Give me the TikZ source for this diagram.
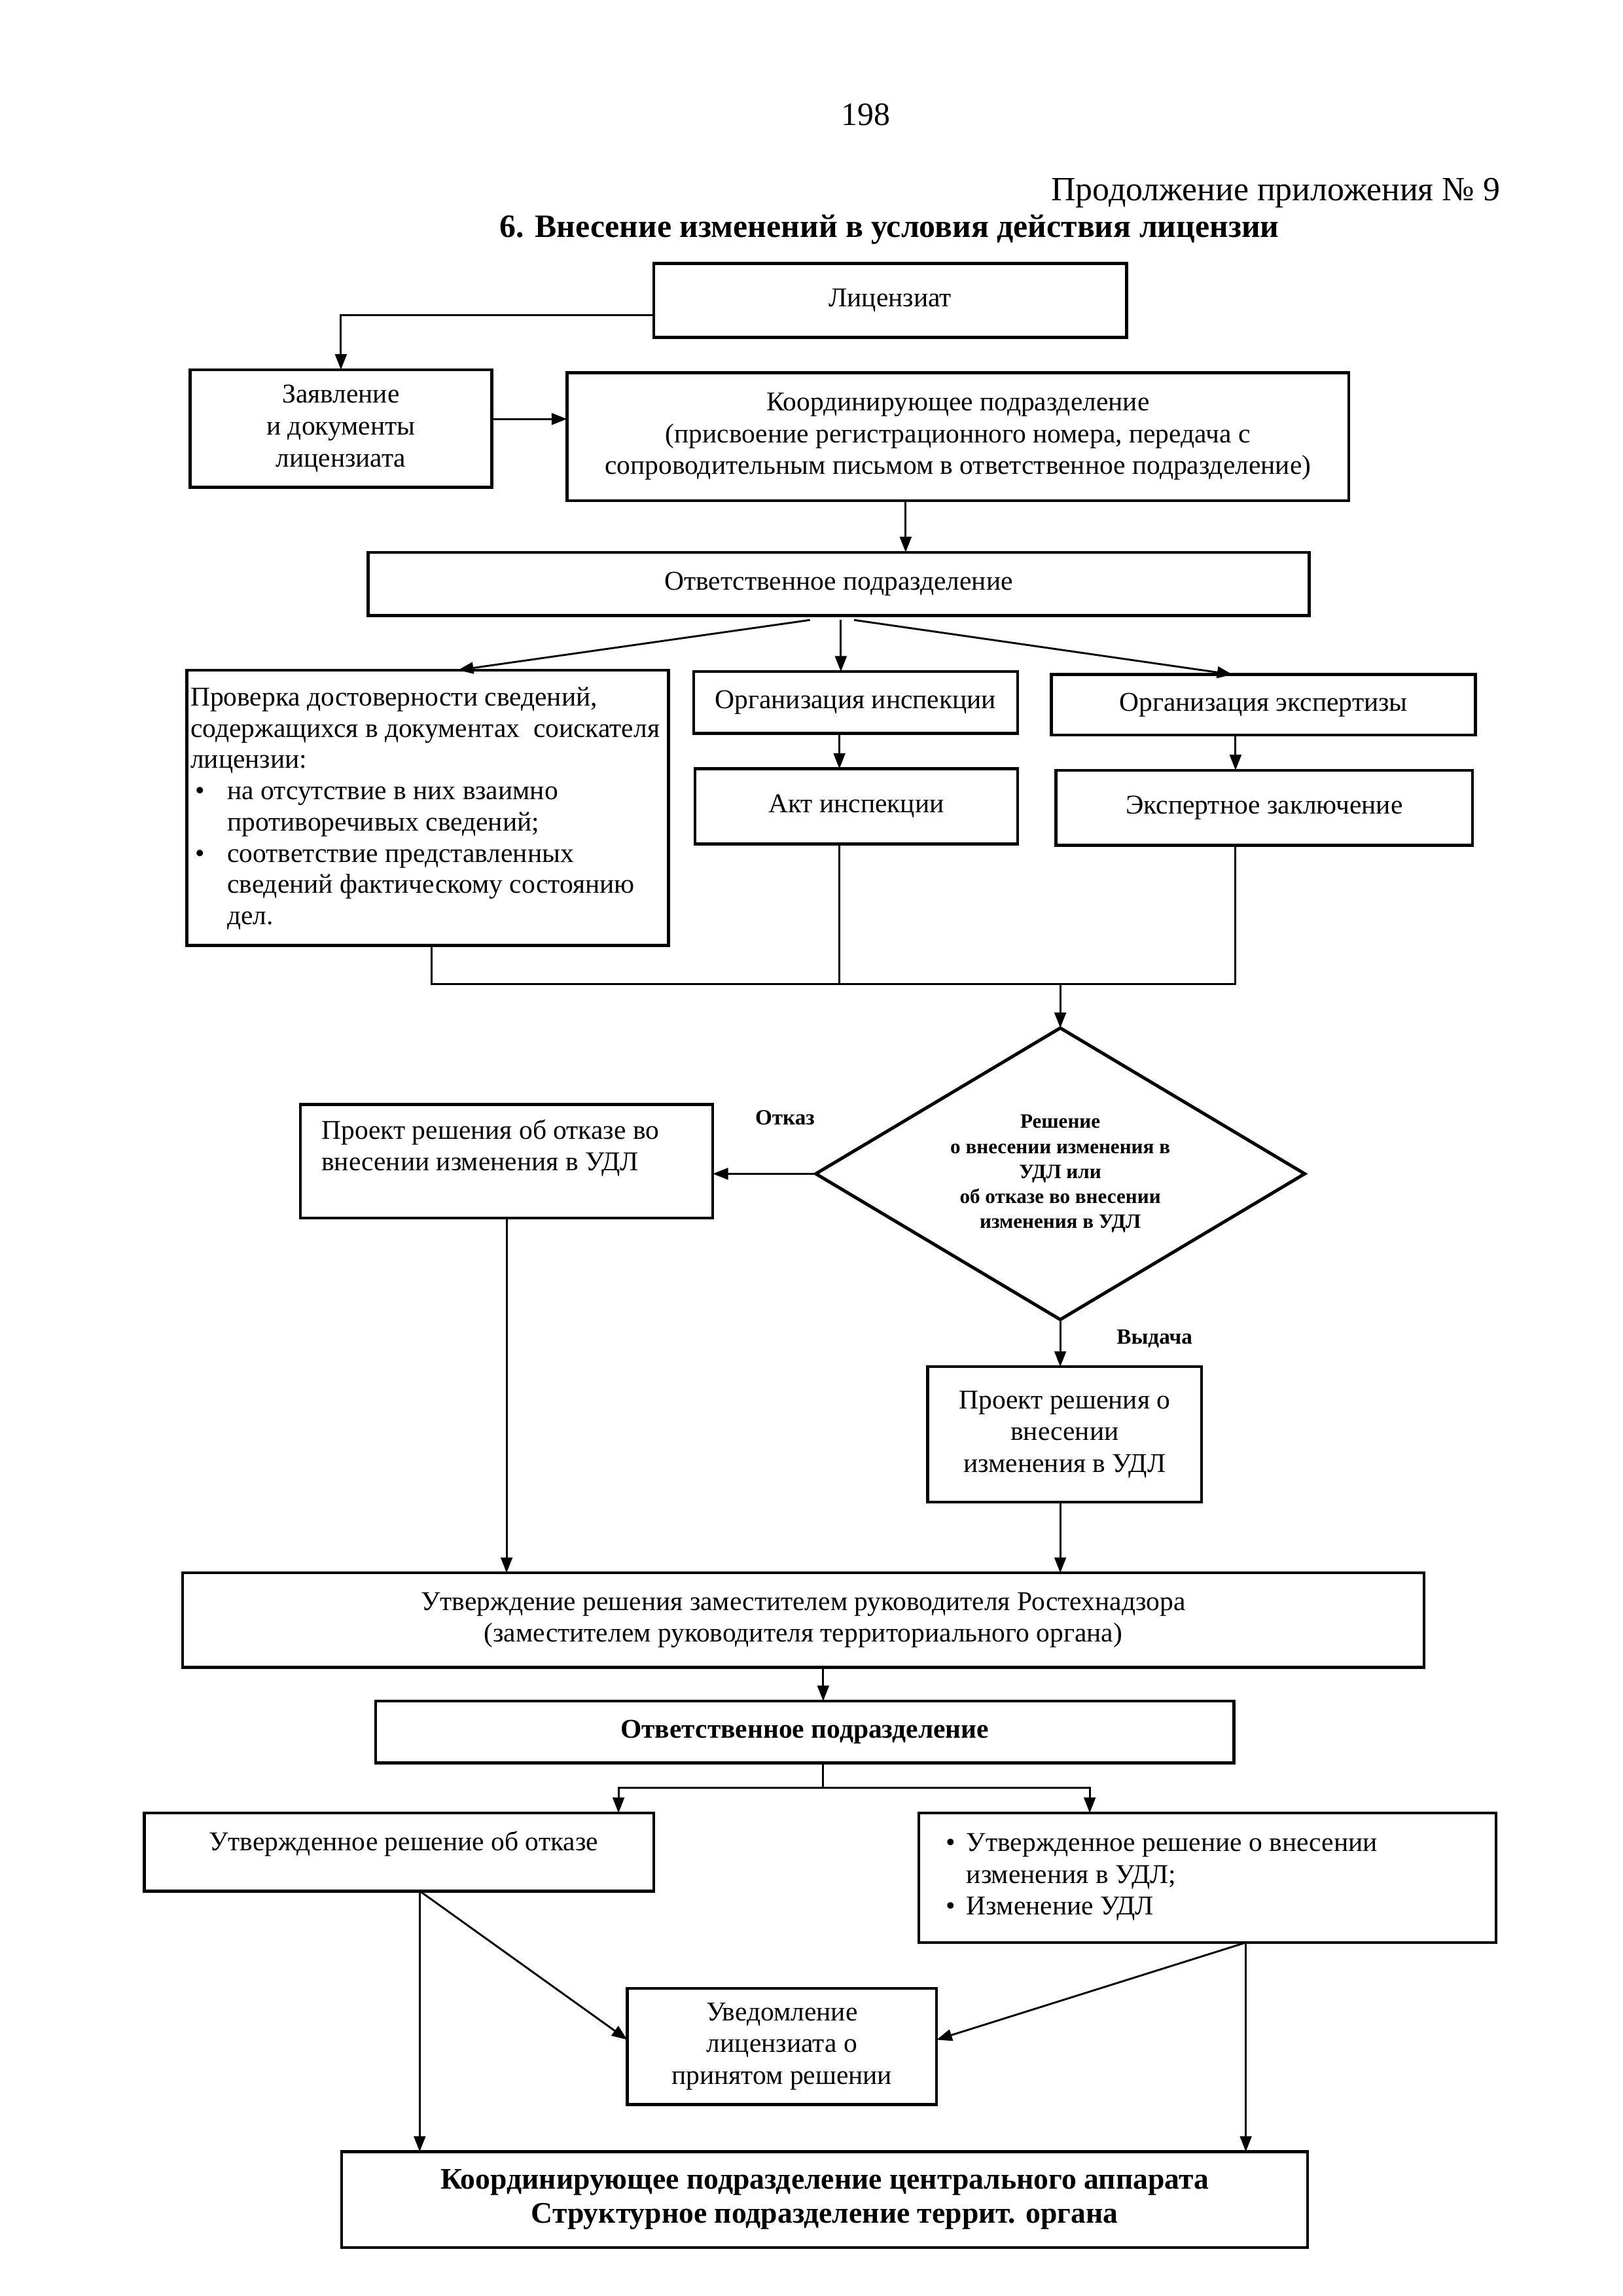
\documentclass[tikz,border=0pt]{standalone}
\usepackage{fontspec}
\setmainfont{Liberation Serif}
\usetikzlibrary{arrows.meta,shapes.geometric,fit,calc}
\begin{document}
\begin{tikzpicture}[x=0.019056cm,y=-0.019056cm,
  box/.style={draw, line width=1.1pt, inner sep=0pt, outer sep=0pt, align=center, font=\fontsize{10}{11.7}\selectfont},
  txt/.style={inner sep=0pt, align=left, font=\fontsize{10}{11.7}\selectfont},
  con/.style={line width=0.7pt},
  arr/.style={con, -{Triangle[length=2mm,width=1.5mm]}},
  lab/.style={inner sep=0pt, font=\fontsize{8}{9.6}\selectfont\bfseries},
]
\path[use as bounding box] (0,0) rectangle (1102,1559);

\node[font=\fontsize{12}{14}\selectfont] (page) at (588,78) {198};
\node[anchor=east, inner sep=0pt, font=\fontsize{12.5}{15}\selectfont] (cont) at (1019,131) {Продолжение приложения №~9};
\node[inner sep=0pt, font=\fontsize{12}{14}\selectfont\bfseries] (title) at (604,156) {6. Внесение изменений в условия действия лицензии};

\node[box, minimum width=6.117cm, minimum height=0.953cm] (lic) at (604.5,204) {Лицензиат};
\node[box, minimum width=3.906cm, minimum height=1.524cm] (zay) at (231.5,291) {Заявление\\и документы\\лицензиата};
\node[box, minimum width=10.119cm, minimum height=1.658cm] (koord) at (650.5,296.5) {Координирующее подразделение\\(присвоение регистрационного номера, передача с\\сопроводительным письмом в ответственное подразделение)};
\node[box, minimum width=12.177cm, minimum height=0.819cm] (otv1) at (569.5,396.5) {Ответственное подразделение};

\node[box, fit={(127,455)(454,642)}] (prov) {};
\node[txt, anchor=west, font=\fontsize{10}{11.5}\selectfont] (provT) at (129,549) {Проверка достоверности сведений,\\
содержащихся в документах\ \ соискателя\\
лицензии:\\
\makebox[0.476cm][l]{\hspace{0.06cm}•}на отсутствие в них взаимно\\
\hspace*{0.476cm}противоречивых сведений;\\
\makebox[0.476cm][l]{\hspace{0.06cm}•}соответствие представленных\\
\hspace*{0.476cm}сведений фактическому состоянию\\
\hspace*{0.476cm}дел.};

\node[box, minimum width=4.192cm, minimum height=0.800cm] (org1) at (581,477) {Организация инспекции};
\node[box, minimum width=5.488cm, minimum height=0.781cm] (org2) at (858,478.5) {Организация экспертизы};
\node[box, minimum width=4.173cm, minimum height=0.972cm] (akt) at (581.5,547.5) {Акт инспекции};
\node[box, minimum width=5.393cm, minimum height=0.972cm] (eksp) at (858.5,548.5) {Экспертное заключение};

\node[draw, diamond, line width=1.2pt, inner sep=0pt, outer sep=0pt, shape aspect=1.68,
  minimum width=6.327cm, minimum height=3.773cm, align=center,
  font=\fontsize{7.5}{9.2}\selectfont\bfseries] (dec) at (720,797)
  {Решение\\о внесении изменения в\\УДЛ или\\об отказе во внесении\\изменения в УДЛ};

\node[box, fit={(204,750)(484,827)}] (proj1) {};
\node[txt, anchor=west] (proj1T) at (218,779.5) {Проект решения об отказе во\\внесении изменения в УДЛ};
\node[lab] (otk) at (533,759) {Отказ};
\node[box, minimum width=3.544cm, minimum height=1.753cm] (proj2) at (723,974) {Проект решения о\\внесении\\изменения в УДЛ};
\node[lab] (vyd) at (784,909) {Выдача};

\node[box, minimum width=16.064cm, minimum height=1.220cm] (utv) at (545.5,1100) {Утверждение решения заместителем руководителя Ростехнадзора\\(заместителем руководителя территориального органа)};
\node[box, minimum width=11.110cm, minimum height=0.800cm, font=\fontsize{10}{12}\selectfont\bfseries] (otv2) at (546.5,1176) {Ответственное подразделение};

\node[box, fit={(98,1231)(444,1284)}] (utvO) {};
\node[txt, anchor=center] (utvOT) at (274,1252) {Утвержденное решение об отказе};
\node[box, fit={(624,1231)(1016,1319)}] (utvV) {};
\node[txt, anchor=west] (utvVT) at (642,1274.5) {\makebox[0.267cm][l]{•}Утвержденное решение о внесении\\\hspace*{0.267cm}изменения в УДЛ;\\\makebox[0.267cm][l]{•}Изменение УДЛ};

\node[box, minimum width=4.002cm, minimum height=1.505cm] (uved) at (531,1389.5) {Уведомление\\лицензиата о\\принятом решении};
\node[box, minimum width=12.501cm, minimum height=1.239cm, font=\fontsize{11}{12.5}\selectfont\bfseries] (bot) at (560,1493.5) {Координирующее подразделение центрального аппарата\\Структурное подразделение террит. органа};

% connectors
\coordinate (l1) at ($(lic.west)+(0,10)$);
\draw[arr] (l1) -| (zay.north);
\coordinate (z1) at ($(zay.east)+(0,-6.5)$);
\draw[arr] (z1) -- (z1 -| koord.west);
\coordinate (k1) at ($(koord.south)+(-35.5,0)$);
\draw[arr] (k1) -- (k1 |- otv1.north);

\coordinate (f1) at ($(otv1.south)+(-19.5,3)$);
\coordinate (f2) at ($(otv1.south)+(1.5,3)$);
\coordinate (f3) at ($(otv1.south)+(10.5,3)$);
\draw[arr] (f1) -- ($(prov.north)+(20.5,0)$);
\draw[arr] (f2) -- (f2 |- org1.north);
\draw[arr] (f3) -- ($(org2.north)+(-21,0)$);

\coordinate (o1) at ($(org1.south)+(-11,0)$);
\draw[arr] (o1) -- (o1 |- akt.north);
\coordinate (o2) at ($(org2.south)+(-19,0)$);
\draw[arr] (o2) -- (o2 |- eksp.north);

\coordinate (p1) at ($(prov.south)+(2.5,0)$);
\coordinate (a1) at ($(akt.south)+(-11.5,0)$);
\coordinate (e1) at ($(eksp.south)+(-19.5,0)$);
\coordinate (mL) at ($(p1)+(0,26)$);
\coordinate (mR) at (e1 |- mL);
\draw[con] (p1) -- (mL) -- (mR) -- (e1);
\draw[con] (a1) -- (a1 |- mL);
\draw[arr] (dec.north |- mL) -- (dec.north);

\draw[arr] (dec.west) -- (dec.west -| proj1.east);
\draw[arr] (dec.south) -- (dec.south |- proj2.north);
\draw[arr] (proj1.south) -- (proj1.south |- utv.north);
\draw[arr] (dec.south |- proj2.south) -- (dec.south |- utv.north);

\coordinate (u1) at ($(utv.south)+(13.5,0)$);
\draw[arr] (u1) -- (u1 |- otv2.north);
\coordinate (s0) at ($(otv2.south)+(12.5,0)$);
\coordinate (s1) at ($(s0)+(0,17)$);
\draw[con] (s0) -- (s1);
\draw[arr] (s1) -| ($(utvO.north)+(149,0)$);
\draw[arr] (s1) -| ($(utvV.north)+(-80,0)$);

\coordinate (r1) at ($(utvO.south)+(14,0)$);
\draw[arr] (r1) -- (r1 |- bot.north);
\draw[arr] (r1) -- ($(uved.west)+(0,-4.5)$);
\coordinate (r2) at ($(utvV.south)+(26,0)$);
\draw[arr] (r2) -- (r2 |- bot.north);
\draw[arr] (r2) -- ($(uved.east)+(0,-4.5)$);
\end{tikzpicture}
\end{document}
